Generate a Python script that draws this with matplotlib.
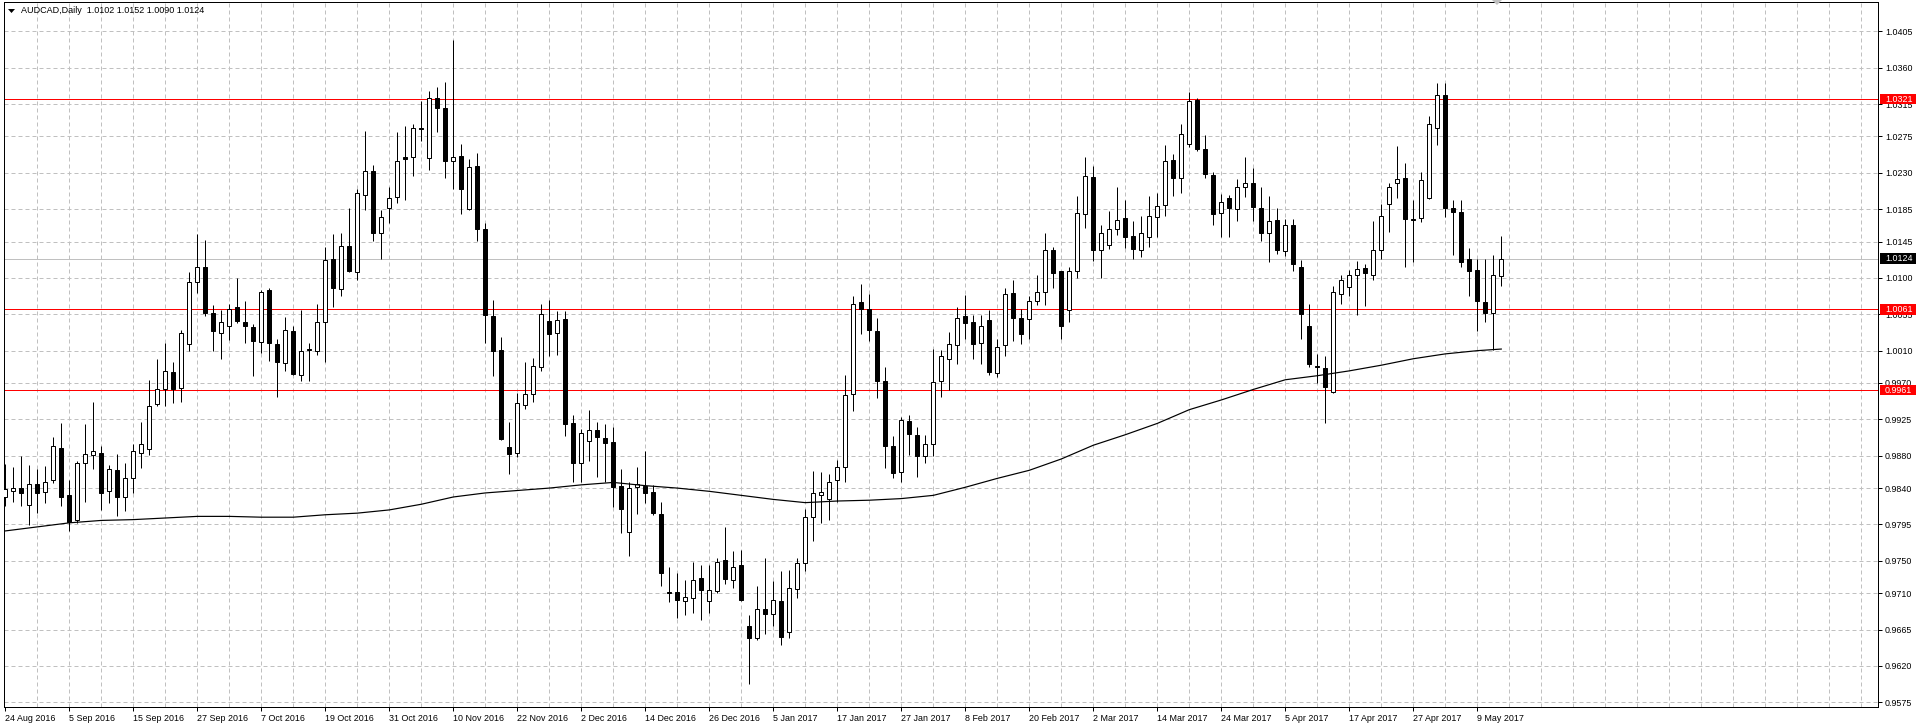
import matplotlib
matplotlib.use("Agg")
import matplotlib.pyplot as plt
import numpy as np
from matplotlib.patches import Rectangle, Polygon
from matplotlib.transforms import blended_transform_factory

plt.rcParams['font.family'] = ['Liberation Sans', 'DejaVu Sans']

# ---------------- data ----------------
opens = [0.9829, 0.9836, 0.9840, 0.9819, 0.9845, 0.9835, 0.9850, 0.9890, 0.9831, 0.9800,
         0.9871, 0.9881, 0.9883, 0.9836, 0.9862, 0.9829, 0.9853, 0.9884, 0.9888, 0.9944,
         0.9963, 0.9984, 0.9964, 1.0018, 1.0095, 1.0113, 1.0057, 1.0032, 1.0040, 1.0064,
         1.0046, 1.0039, 1.0021, 1.0085, 1.0018, 0.9995, 1.0034, 0.9980, 1.0012, 1.0010,
         1.0046, 1.0123, 1.0086, 1.0139, 1.0107, 1.0203, 1.0232, 1.0155, 1.0186, 1.0200,
         1.0249, 1.0249, 1.0285, 1.0248, 1.0322, 1.0310, 1.0244, 1.0251, 1.0185, 1.0238,
         1.0161, 1.0053, 1.0011, 0.9891, 0.9884, 0.9943, 0.9956, 0.9990, 1.0047, 1.0032,
         1.0049, 0.9921, 0.9871, 0.9898, 0.9912, 0.9902, 0.9897, 0.9843, 0.9786, 0.9841,
         0.9843, 0.9835, 0.9808, 0.9711, 0.9711, 0.9700, 0.9704, 0.9729, 0.9700, 0.9713,
         0.9751, 0.9726, 0.9745, 0.9669, 0.9655, 0.9690, 0.9684, 0.9700, 0.9662, 0.9715,
         0.9747, 0.9804, 0.9832, 0.9826, 0.9850, 0.9866, 0.9956, 1.0070, 1.0062, 1.0034,
         0.9972, 0.9892, 0.9860, 0.9923, 0.9906, 0.9880, 0.9894, 0.9972, 1.0000, 1.0017,
         1.0053, 1.0046, 1.0020, 1.0048, 0.9982, 1.0017, 1.0081, 1.0051, 1.0049, 1.0072,
         1.0082, 1.0135, 1.0108, 1.0060, 1.0108, 1.0179, 1.0225, 1.0134, 1.0141, 1.0160,
         1.0174, 1.0152, 1.0135, 1.0150, 1.0175, 1.0190, 1.0246, 1.0224, 1.0266, 1.0320,
         1.0260, 1.0227, 1.0180, 1.0199, 1.0185, 1.0212, 1.0217, 1.0187, 1.0156, 1.0172,
         1.0133, 1.0165, 1.0114, 1.0040, 0.9991, 0.9988, 0.9959, 1.0080, 1.0089, 1.0103,
         1.0112, 1.0104, 1.0134, 1.0192, 1.0217, 1.0223, 1.0173, 1.0174, 1.0199, 1.0286,
         1.0326, 1.0186, 1.0182, 1.0123, 1.0110, 1.0070, 1.0056, 1.0102]
highs = [0.9870, 0.9866, 0.9880, 0.9869, 0.9864, 0.9867, 0.9903, 0.9921, 0.9850, 0.9873,
         0.9919, 0.9947, 0.9892, 0.9869, 0.9882, 0.9871, 0.9895, 0.9922, 0.9974, 1.0000,
         1.0020, 0.9996, 1.0036, 1.0107, 1.0154, 1.0147, 1.0067, 1.0060, 1.0068, 1.0100,
         1.0071, 1.0043, 1.0085, 1.0088, 1.0024, 1.0052, 1.0041, 1.0060, 1.0020, 1.0068,
         1.0138, 1.0154, 1.0156, 1.0187, 1.0210, 1.0282, 1.0240, 1.0184, 1.0213, 1.0281,
         1.0288, 1.0290, 1.0319, 1.0331, 1.0336, 1.0342, 1.0394, 1.0266, 1.0247, 1.0254,
         1.0168, 1.0073, 1.0027, 0.9922, 0.9958, 0.9996, 1.0001, 1.0068, 1.0073, 1.0059,
         1.0059, 0.9930, 0.9913, 0.9937, 0.9922, 0.9919, 0.9916, 0.9864, 0.9847, 0.9866,
         0.9886, 0.9844, 0.9823, 0.9742, 0.9735, 0.9726, 0.9749, 0.9745, 0.9745, 0.9754,
         0.9792, 0.9762, 0.9763, 0.9683, 0.9719, 0.9753, 0.9725, 0.9737, 0.9739, 0.9753,
         0.9814, 0.9861, 0.9860, 0.9857, 0.9875, 0.9980, 1.0078, 1.0092, 1.0080, 1.0050,
         0.9990, 0.9904, 0.9928, 0.9931, 0.9915, 0.9906, 1.0012, 1.0011, 1.0033, 1.0064,
         1.0079, 1.0054, 1.0054, 1.0060, 1.0025, 1.0088, 1.0097, 1.0062, 1.0078, 1.0103,
         1.0156, 1.0138, 1.0109, 1.0113, 1.0201, 1.0250, 1.0238, 1.0165, 1.0183, 1.0213,
         1.0196, 1.0170, 1.0176, 1.0201, 1.0205, 1.0264, 1.0253, 1.0291, 1.0330, 1.0322,
         1.0277, 1.0231, 1.0204, 1.0203, 1.0222, 1.0250, 1.0236, 1.0212, 1.0201, 1.0186,
         1.0173, 1.0173, 1.0122, 1.0068, 1.0006, 1.0003, 1.0090, 1.0104, 1.0110, 1.0121,
         1.0117, 1.0170, 1.0191, 1.0218, 1.0263, 1.0242, 1.0196, 1.0231, 1.0300, 1.0341,
         1.0341, 1.0196, 1.0196, 1.0137, 1.0123, 1.0123, 1.0128, 1.0152]
lows = [0.9818, 0.9823, 0.9818, 0.9794, 0.9809, 0.9821, 0.9846, 0.9818, 0.9787, 0.9797,
        0.9823, 0.9864, 0.9813, 0.9821, 0.9806, 0.9812, 0.9834, 0.9865, 0.9881, 0.9942,
        0.9942, 0.9945, 0.9946, 1.0009, 1.0081, 1.0053, 1.0010, 1.0000, 1.0023, 1.0044,
        1.0019, 0.9979, 1.0007, 0.9997, 0.9953, 0.9985, 0.9980, 0.9973, 0.9973, 1.0005,
        0.9996, 1.0064, 1.0077, 1.0107, 1.0097, 1.0184, 1.0146, 1.0124, 1.0168, 1.0193,
        1.0196, 1.0226, 1.0269, 1.0234, 1.0281, 1.0224, 1.0210, 1.0179, 1.0184, 1.0146,
        1.0020, 0.9979, 0.9899, 0.9857, 0.9878, 0.9938, 0.9946, 0.9985, 1.0003, 1.0005,
        0.9904, 0.9848, 0.9848, 0.9873, 0.9854, 0.9848, 0.9817, 0.9785, 0.9756, 0.9808,
        0.9821, 0.9807, 0.9719, 0.9699, 0.9679, 0.9683, 0.9685, 0.9677, 0.9685, 0.9710,
        0.9721, 0.9717, 0.9700, 0.9598, 0.9652, 0.9660, 0.9669, 0.9646, 0.9655, 0.9704,
        0.9737, 0.9774, 0.9797, 0.9800, 0.9823, 0.9848, 0.9935, 1.0030, 1.0022, 0.9951,
        0.9865, 0.9852, 0.9848, 0.9881, 0.9854, 0.9871, 0.9880, 0.9953, 0.9961, 0.9993,
        1.0024, 1.0000, 0.9993, 0.9980, 0.9978, 1.0003, 1.0022, 1.0018, 1.0025, 1.0067,
        1.0067, 1.0087, 1.0025, 1.0046, 1.0100, 1.0162, 1.0121, 1.0100, 1.0136, 1.0153,
        1.0137, 1.0124, 1.0126, 1.0138, 1.0150, 1.0177, 1.0201, 1.0205, 1.0262, 1.0257,
        1.0223, 1.0166, 1.0151, 1.0151, 1.0170, 1.0200, 1.0170, 1.0146, 1.0120, 1.0129,
        1.0127, 1.0108, 1.0025, 0.9990, 0.9970, 0.9921, 0.9958, 1.0068, 1.0077, 1.0054,
        1.0065, 1.0097, 1.0123, 1.0157, 1.0199, 1.0114, 1.0120, 1.0169, 1.0198, 1.0264,
        1.0175, 1.0128, 1.0114, 1.0077, 1.0034, 1.0046, 1.0011, 1.0090]
closes = [0.9839, 0.9840, 0.9834, 0.9845, 0.9834, 0.9848, 0.9892, 0.9829, 0.9798, 0.9871,
          0.9882, 0.9886, 0.9834, 0.9863, 0.9829, 0.9852, 0.9886, 0.9895, 0.9942, 0.9962,
          0.9985, 0.9963, 1.0032, 1.0095, 1.0113, 1.0056, 1.0034, 1.0046, 1.0062, 1.0047,
          1.0040, 1.0022, 1.0082, 1.0019, 0.9996, 1.0035, 0.9981, 1.0010, 1.0011, 1.0045,
          1.0122, 1.0087, 1.0140, 1.0108, 1.0205, 1.0232, 1.0155, 1.0175, 1.0199, 1.0245,
          1.0247, 1.0286, 1.0284, 1.0323, 1.0310, 1.0245, 1.0250, 1.0210, 1.0237, 1.0161,
          1.0054, 1.0010, 0.9901, 0.9882, 0.9945, 0.9957, 0.9991, 1.0055, 1.0030, 1.0048,
          0.9919, 0.9871, 0.9908, 0.9912, 0.9903, 0.9896, 0.9841, 0.9814, 0.9840, 0.9845,
          0.9834, 0.9809, 0.9735, 0.9710, 0.9702, 0.9705, 0.9726, 0.9714, 0.9714, 0.9749,
          0.9727, 0.9743, 0.9702, 0.9655, 0.9691, 0.9684, 0.9701, 0.9656, 0.9716, 0.9747,
          0.9804, 0.9834, 0.9835, 0.9848, 0.9866, 0.9955, 1.0068, 1.0061, 1.0036, 0.9972,
          0.9892, 0.9859, 0.9924, 0.9907, 0.9880, 0.9895, 0.9971, 1.0003, 1.0018, 1.0051,
          1.0044, 1.0018, 1.0040, 0.9983, 1.0015, 1.0080, 1.0051, 1.0030, 1.0072, 1.0082,
          1.0134, 1.0106, 1.0040, 1.0108, 1.0180, 1.0226, 1.0135, 1.0155, 1.0160, 1.0172,
          1.0150, 1.0136, 1.0155, 1.0177, 1.0189, 1.0245, 1.0223, 1.0278, 1.0319, 1.0259,
          1.0228, 1.0179, 1.0194, 1.0186, 1.0212, 1.0217, 1.0188, 1.0155, 1.0170, 1.0134,
          1.0165, 1.0117, 1.0055, 0.9993, 0.9990, 0.9965, 1.0082, 1.0098, 1.0103, 1.0111,
          1.0106, 1.0134, 1.0177, 1.0212, 1.0222, 1.0173, 1.0172, 1.0221, 1.0291, 1.0326,
          1.0186, 1.0181, 1.0120, 1.0108, 1.0072, 1.0056, 1.0103, 1.0124]

ma_bars = [0, 4, 8, 12, 16, 20, 24, 28, 32, 36, 40, 44, 48, 52, 56, 60, 64, 68, 72, 76,
           80, 84, 88, 92, 96, 100, 104, 108, 112, 116, 120, 124, 128, 132, 136, 140,
           144, 148, 152, 156, 160, 164, 168, 172, 176, 180, 184, 187]
ma_values = [0.9787, 0.9792, 0.9797, 0.9800, 0.9801, 0.9803, 0.9805, 0.9805, 0.9804, 0.9804,
             0.9807, 0.9809, 0.9813, 0.9820, 0.9829, 0.9834, 0.9837, 0.9840, 0.9844, 0.9847,
             0.9843, 0.9840, 0.9836, 0.9831, 0.9826, 0.9822, 0.9824, 0.9825, 0.9827, 0.9831,
             0.9841, 0.9852, 0.9862, 0.9876, 0.9893, 0.9906, 0.9920, 0.9937, 0.9949, 0.9962,
             0.9974, 0.9979, 0.9985, 0.9992, 1.0000, 1.0006, 1.0010, 1.0012]

date_labels = ["24 Aug 2016", "5 Sep 2016", "15 Sep 2016", "27 Sep 2016", "7 Oct 2016",
               "19 Oct 2016", "31 Oct 2016", "10 Nov 2016", "22 Nov 2016", "2 Dec 2016",
               "14 Dec 2016", "26 Dec 2016", "5 Jan 2017", "17 Jan 2017", "27 Jan 2017",
               "8 Feb 2017", "20 Feb 2017", "2 Mar 2017", "14 Mar 2017", "24 Mar 2017",
               "5 Apr 2017", "17 Apr 2017", "27 Apr 2017", "9 May 2017"]
price_ticks = [1.0405, 1.0360, 1.0315, 1.0275, 1.0230, 1.0185, 1.0145, 1.0100, 1.0055,
               1.0010, 0.9970, 0.9925, 0.9880, 0.9840, 0.9795, 0.9750, 0.9710, 0.9665,
               0.9620, 0.9575]
levels = [1.0321, 1.0061, 0.9961]
last_price = 1.0124
title_text = "AUDCAD,Daily  1.0102 1.0152 1.0090 1.0124"

# ---------------- figure ----------------
W, H = 1919, 728
PX = 0.72  # one pixel in points
fig = plt.figure(figsize=(W / 100, H / 100), dpi=100)
fig.patch.set_facecolor('white')
ax = fig.add_axes([4 / W, 21 / H, (1878 - 4) / W, (726 - 21) / H])
ax.set_facecolor('white')
ax.set_xlim(-0.1625, 234.09)
ax.set_ylim(0.95692, 1.04413)

grid_col = '#c0c0c0'
dash = (0, (4, 3))
for gx in range(4, 235, 4):
    ax.axvline(gx, color=grid_col, lw=PX, ls=dash, zorder=1)
for gy in price_ticks:
    ax.axhline(gy, color=grid_col, lw=PX, ls=dash, zorder=1)

# current price line and levels
ax.axhline(last_price, color='#c0c0c0', lw=PX, zorder=1.5)
for lv in levels:
    ax.axhline(lv, color='#ff0000', lw=PX, zorder=2)

# candles
o = np.array(opens); h = np.array(highs); l = np.array(lows); c = np.array(closes)
x = np.arange(len(o))
ax.vlines(x, l, h, color='black', lw=PX, zorder=3)
bull = c >= o
bottoms = np.minimum(o, c)
heights = np.abs(c - o)
ax.bar(x, heights, bottom=bottoms, width=0.5,
       color=np.where(bull, 'white', 'black'), edgecolor='black', linewidth=PX, zorder=4)

# moving average
ax.plot(ma_bars, ma_values, color='black', lw=PX * 1.2, zorder=5)

# axes styling
for side in ['left', 'right', 'bottom', 'top']:
    ax.spines[side].set_color('black')
    ax.spines[side].set_linewidth(PX)
ax.yaxis.tick_right()
ax.set_yticks(price_ticks)
ax.set_yticklabels([f"{v:.4f}" for v in price_ticks])
ax.tick_params(axis='y', length=3, width=PX, pad=2, labelsize=6.4, colors='black')
ax.set_xticks([8 * i for i in range(len(date_labels))])
ax.set_xticklabels(date_labels, ha='left')
ax.tick_params(axis='x', length=3, width=PX, pad=2, labelsize=6.4, colors='black')

# price boxes on the right scale
btf = blended_transform_factory(fig.transFigure, ax.transData)
half = 5.2 / 8084.0
for val, fc in [(1.0321, '#ff0000'), (1.0061, '#ff0000'), (0.9961, '#ff0000'), (last_price, 'black')]:
    ax.add_patch(Rectangle((1880 / W, val - half), 36 / W, 2 * half, transform=btf,
                           facecolor=fc, edgecolor='none', clip_on=False, zorder=10))
    ax.text(1885 / W, val, f"{val:.4f}", transform=btf, color='white', fontsize=6.4,
            va='center', ha='left', clip_on=False, zorder=11)

# title and markers
fig.text(21 / W, 1 - 10.5 / H, title_text, fontsize=6.5, va='center', ha='left', color='black')
tri = Polygon([(8 / W, 1 - 9 / H), (15 / W, 1 - 9 / H), (11.5 / W, 1 - 13 / H)],
              closed=True, facecolor='black', edgecolor='none', transform=fig.transFigure)
fig.add_artist(tri)
tri2 = Polygon([(1492 / W, 1 - 0 / H), (1502 / W, 1 - 0 / H), (1497 / W, 1 - 5 / H)],
               closed=True, facecolor='#c0c0c0', edgecolor='none', transform=fig.transFigure)
fig.add_artist(tri2)

fig.savefig('out.png', dpi=100, facecolor='white')
